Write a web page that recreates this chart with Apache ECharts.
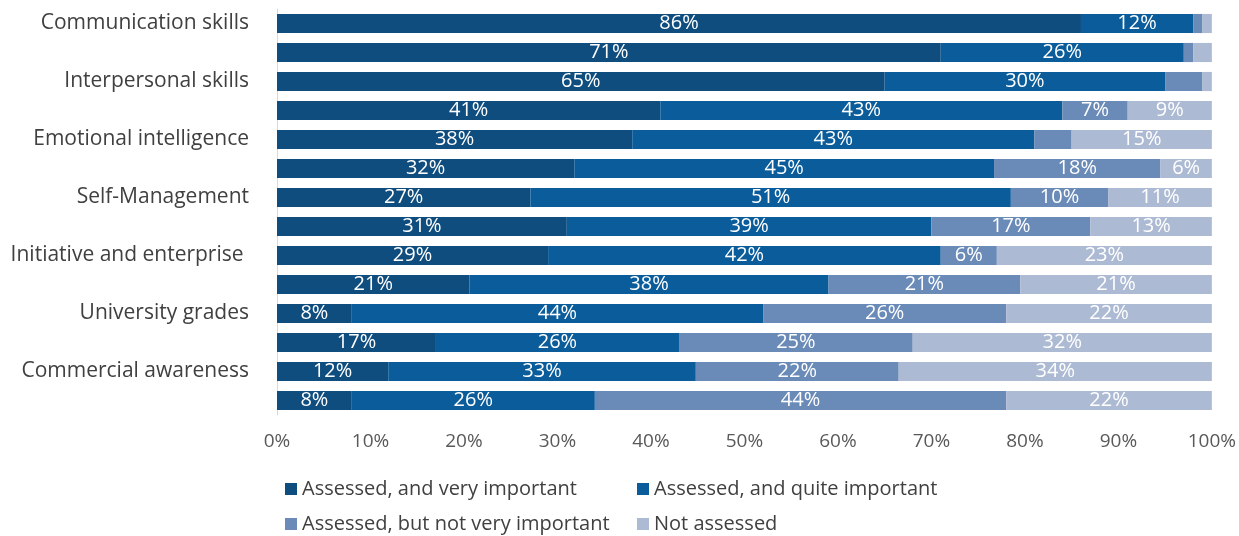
<!DOCTYPE html>
<html>
<head>
<meta charset="utf-8">
<script src="https://cdn.jsdelivr.net/npm/echarts@6/dist/echarts.min.js"></script>
<style>
  html, body { margin: 0; padding: 0; background: #ffffff; }
  #chart { width: 1239px; height: 536px; }
</style>
</head>
<body>
<div id="chart"></div>
<script>
// Skills rows, top to bottom; every other row carries no printed name.
const categories = [
  'Communication skills', '', 'Interpersonal skills', '', 'Emotional intelligence', '',
  'Self-Management', '', 'Initiative and enterprise ', '', 'University grades', '',
  'Commercial awareness', ''
];

// Share of employers (%) in each assessment group, per row (labels show whole percents).
const veryImportant    = [86, 71, 65, 41, 38, 31.8, 27.1, 31, 29, 20.6,  8, 17, 11.9,  8];
const quiteImportant   = [12, 26, 30, 43, 43, 44.9, 51.4, 39, 42, 38.4, 44, 26, 32.9, 26];
const notVeryImportant = [ 1,  1,  4,  7,  4, 17.8, 10.4, 17,  6, 20.5, 26, 25, 21.7, 44];
const notAssessed      = [ 1,  2,  1,  9, 15,  5.5, 11.1, 13, 23, 20.5, 22, 32, 33.5, 22];

const seriesNames = [
  'Assessed, and very important',
  'Assessed, and quite important',
  'Assessed, but not very important',
  'Not assessed'
];
const seriesData = [veryImportant, quiteImportant, notVeryImportant, notAssessed];
const seriesColors = ['#0f4d7f', '#0a5c9b', '#6a8ab8', '#adbad3'];

const axisTicks = [0, 10, 20, 30, 40, 50, 60, 70, 80, 90, 100];

const FONT = 'Open Sans';

const chart = echarts.init(document.getElementById('chart'), null, { renderer: 'canvas' });

const series = seriesNames.map((name, i) => ({
  name: name,
  type: 'bar',
  stack: 'total',
  barWidth: '66%',
  data: seriesData[i],
  itemStyle: { color: seriesColors[i] },
  label: {
    show: true,
    position: 'inside',
    color: '#ffffff',
    fontFamily: FONT,
    fontSize: 20,
    formatter: p => (p.value >= 5 ? Math.round(p.value) + '%' : '')
  },
  emphasis: { disabled: true }
}));

const legendBase = {
  icon: 'rect',
  itemWidth: 12,
  itemHeight: 12,
  itemGap: 10,
  textStyle: { color: '#404040', fontFamily: FONT, fontSize: 20 }
};

chart.setOption({
  animation: false,
  grid: { left: 277, right: 27, top: 9, height: 406 },
  xAxis: {
    type: 'value',
    min: 0,
    max: 100,
    interval: 10,
    axisLine: { show: false },
    axisTick: { show: false },
    splitLine: { show: false },
    axisLabel: {
      color: '#595959',
      fontFamily: FONT,
      fontSize: 19,
      margin: 17,
      formatter: v => (axisTicks.includes(v) ? v + '%' : '')
    }
  },
  yAxis: {
    type: 'category',
    inverse: true,
    data: categories,
    axisLine: { show: true, lineStyle: { color: '#d9d9d9', width: 1 } },
    axisTick: { show: false },
    axisLabel: {
      interval: 0,
      color: '#404040',
      fontFamily: FONT,
      fontSize: 21,
      margin: 28
    }
  },
  legend: [
    Object.assign({}, legendBase, { data: [seriesNames[0]], left: 280, top: 474 }),
    Object.assign({}, legendBase, { data: [seriesNames[1]], left: 632, top: 474 }),
    Object.assign({}, legendBase, { data: [seriesNames[2]], left: 280, top: 509 }),
    Object.assign({}, legendBase, { data: [seriesNames[3]], left: 632, top: 509 })
  ],
  series: series
});
</script>
</body>
</html>
